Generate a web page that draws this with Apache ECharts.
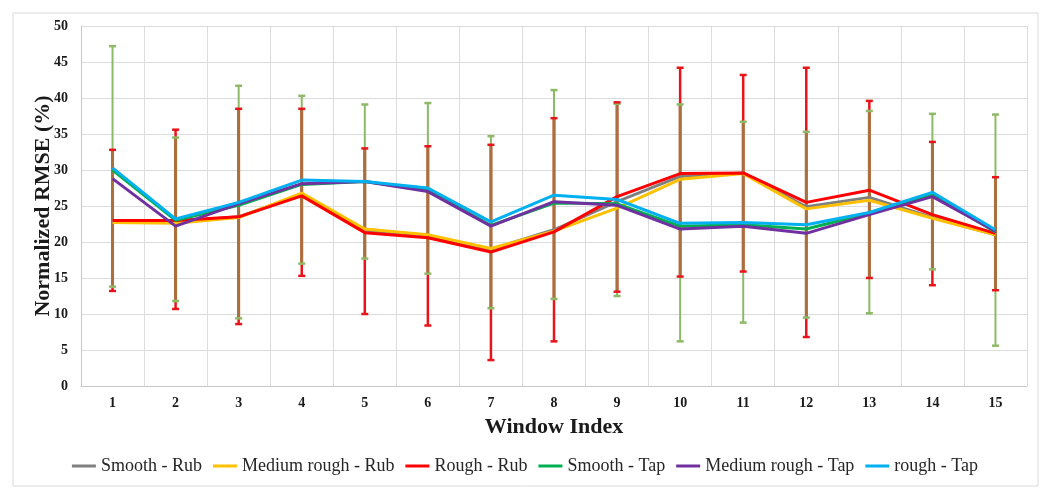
<!DOCTYPE html>
<html>
<head>
<meta charset="utf-8">
<script src="https://cdn.jsdelivr.net/npm/echarts@6/dist/echarts.min.js"></script>
<style>
html,body{margin:0;padding:0;background:#fff;}
#chart{width:1050px;height:504px;}
</style>
</head>
<body>
<div id="chart"></div>
<script>
const windows = ['1','2','3','4','5','6','7','8','9','10','11','12','13','14','15'];

const smoothRub      = [22.8, 22.8, 23.5, 26.6, 21.6, 20.8, 19.0, 21.7, 25.6, 29.1, 29.6, 24.9, 26.2, 23.4, 21.0];
const mediumRoughRub = [22.7, 22.6, 23.4, 26.8, 21.8, 21.0, 19.1, 21.5, 24.7, 28.7, 29.5, 24.6, 25.8, 23.3, 21.0];
const roughRub       = [23.0, 23.0, 23.5, 26.4, 21.3, 20.6, 18.6, 21.4, 26.3, 29.5, 29.6, 25.5, 27.2, 23.8, 21.2];
const smoothTap      = [30.0, 23.0, 25.1, 28.0, 28.4, 27.2, 22.3, 25.4, 25.3, 22.2, 22.4, 21.8, 24.0, 26.6, 21.4];
const mediumRoughTap = [28.8, 22.2, 25.3, 28.1, 28.4, 27.0, 22.2, 25.6, 25.1, 21.8, 22.2, 21.2, 23.8, 26.3, 21.5];
const roughTap       = [30.3, 23.2, 25.5, 28.6, 28.4, 27.5, 22.8, 26.5, 25.9, 22.6, 22.7, 22.4, 24.1, 26.9, 21.7];

// error bar extents
const tapLow  = [13.8, 11.8,  9.4, 17.0, 17.7, 15.6, 10.8, 12.1, 12.5,  6.2,  8.8,  9.5, 10.1, 16.2,  5.6];
const tapHigh = [47.2, 34.5, 41.7, 40.3, 39.1, 39.3, 34.7, 41.1, 39.2, 39.1, 36.7, 35.3, 38.2, 37.8, 37.7];
const rubLow  = [13.2, 10.7,  8.6, 15.3, 10.0,  8.4,  3.6,  6.2, 13.1, 15.2, 15.9,  6.8, 15.0, 14.0, 13.3];
const rubHigh = [32.8, 35.6, 38.5, 38.5, 33.0, 33.3, 33.5, 37.2, 39.4, 44.2, 43.2, 44.2, 39.6, 33.9, 29.0];

const yTicks = [0, 50, 5];

const seriesNames  = ['Smooth - Rub','Medium rough - Rub','Rough - Rub','Smooth - Tap','Medium rough - Tap','rough - Tap'];
const seriesColors = ['#7f7f7f','#ffc000','#ff0000','#00b050','#7030a0','#00b0f0'];
const seriesData   = [smoothRub, mediumRoughRub, roughRub, smoothTap, mediumRoughTap, roughTap];

const GREEN = '#8dba66', RED = '#e8141a', BROWN = '#a8703c';
const FONT = 'Liberation Serif';

const errData = windows.map((w, i) => [i, tapLow[i], tapHigh[i], rubLow[i], rubHigh[i]]);

function renderErr(params, api) {
  const i = api.value(0);
  const tl = api.value(1), th = api.value(2), rl = api.value(3), rh = api.value(4);
  const x = api.coord([i, 0])[0];
  const Y = v => api.coord([i, v])[1];
  const seg = (a, b, c, w) => ({type:'line', shape:{x1:x, y1:Y(a), x2:x, y2:Y(b)}, style:{stroke:c, lineWidth:w}});
  const cap = (v, c) => ({type:'line', shape:{x1:x-3.5, y1:Y(v), x2:x+3.5, y2:Y(v)}, style:{stroke:c, lineWidth:2.5}});
  const ch = [seg(tl, th, GREEN, 2), seg(rl, rh, RED, 2.5)];
  const ol = Math.max(tl, rl), oh = Math.min(th, rh);
  if (oh > ol) ch.push(seg(ol, oh, BROWN, 3));
  ch.push(cap(th, GREEN), cap(tl, GREEN), cap(rh, RED), cap(rl, RED));
  return {type:'group', children: ch};
}

const series = [{
  type: 'custom',
  name: 'err',
  renderItem: renderErr,
  data: errData,
  encode: {x: 0, y: [1, 2, 3, 4]},
  z: 1,
  silent: true
}];
seriesNames.forEach((n, k) => {
  series.push({
    type: 'line',
    name: n,
    data: seriesData[k],
    showSymbol: false,
    symbol: 'none',
    lineStyle: {width: 3, color: seriesColors[k]},
    itemStyle: {color: seriesColors[k]},
    z: 2 + k,
    animation: false
  });
});

const chart = echarts.init(document.getElementById('chart'), null, {renderer: 'canvas'});
chart.setOption({
  animation: false,
  backgroundColor: '#fff',
  graphic: [{
    type: 'rect',
    shape: {x: 13, y: 13, width: 1025, height: 473},
    style: {fill: 'none', stroke: '#d9d9d9', lineWidth: 1},
    silent: true
  }],
  grid: {left: 81, right: 23, top: 26, bottom: 118, containLabel: false},
  legend: {
    data: seriesNames,
    top: 452,
    left: 'center',
    icon: 'rect',
    itemWidth: 24,
    itemHeight: 3,
    itemGap: 11,
    textStyle: {fontFamily: FONT, fontSize: 18, color: '#262626'}
  },
  xAxis: {
    type: 'category',
    data: windows,
    boundaryGap: true,
    name: 'Window Index',
    nameLocation: 'middle',
    nameGap: 30,
    nameTextStyle: {fontFamily: FONT, fontSize: 22, fontWeight: 'bold', color: '#1a1a1a'},
    axisLine: {show: true, lineStyle: {color: '#c8c8c8', width: 1}},
    axisTick: {show: false},
    axisLabel: {fontFamily: FONT, fontSize: 14, fontWeight: 'bold', color: '#1a1a1a', margin: 10},
    splitLine: {show: true, lineStyle: {color: '#dcdcdc', width: 1}}
  },
  yAxis: {
    type: 'value',
    min: yTicks[0],
    max: yTicks[1],
    interval: yTicks[2],
    name: 'Normalized RMSE (%)',
    nameLocation: 'middle',
    nameGap: 27,
    nameMoveOverlap: false,
    nameTextStyle: {fontFamily: FONT, fontSize: 22, fontWeight: 'bold', color: '#1a1a1a'},
    axisLine: {show: true, lineStyle: {color: '#c8c8c8', width: 1}},
    axisTick: {show: false},
    axisLabel: {fontFamily: FONT, fontSize: 14, fontWeight: 'bold', color: '#1a1a1a', margin: 13},
    splitLine: {show: true, lineStyle: {color: '#dcdcdc', width: 1}}
  },
  series: series
});
</script>
</body>
</html>
